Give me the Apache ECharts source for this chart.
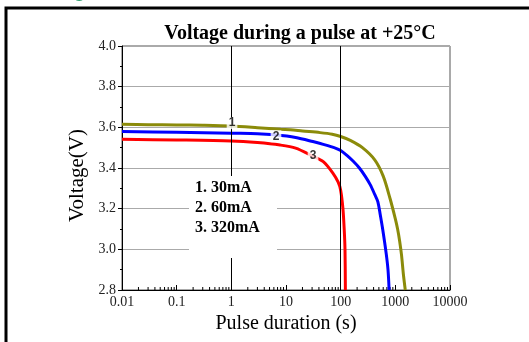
<!DOCTYPE html>
<html>
<head>
<meta charset="utf-8">
<script src="https://cdn.jsdelivr.net/npm/echarts@6/dist/echarts.min.js"></script>
<style>html,body{margin:0;padding:0;background:#fff;}#c{width:529px;height:342px;}</style>
</head>
<body>
<div id="c"></div>
<script>
// Curve 1: 30 mA (olive)
var t30 = [0.01, 0.03, 0.1, 0.3, 1, 3, 8, 12, 20, 42, 70, 100, 150, 250, 420, 600, 800, 1000, 1100, 1200, 1300, 1400, 1520];
var v30 = [3.615, 3.613, 3.612, 3.61, 3.606, 3.598, 3.59, 3.588, 3.582, 3.574, 3.566, 3.555, 3.536, 3.5, 3.44, 3.36, 3.25, 3.15, 3.1, 3.04, 2.97, 2.88, 2.8];
// Curve 2: 60 mA (blue)
var t60 = [0.01, 0.1, 1, 3, 6.3, 15, 31, 50, 80, 100, 130, 170, 220, 280, 347, 420, 478, 530, 590, 680, 734, 770];
var v60 = [3.579, 3.576, 3.571, 3.569, 3.563, 3.55, 3.53, 3.515, 3.498, 3.486, 3.462, 3.433, 3.4, 3.36, 3.318, 3.27, 3.235, 3.17, 3.095, 2.98, 2.9, 2.8];
// Curve 3: 320 mA (red)
var t320 = [0.01, 0.1, 1, 3, 7.8, 15, 30, 48, 72, 90, 100, 110, 116, 120, 122];
var v320 = [3.541, 3.538, 3.533, 3.525, 3.513, 3.498, 3.46, 3.431, 3.375, 3.33, 3.29, 3.2, 3.1, 3.0, 2.8];
// Curve number labels: [time, voltage, text]
var curveLabels = [[1.03, 3.621, '1'], [6.56, 3.556, '2'], [31.2, 3.459, '3']];
var legendLines = ['1. 30mA', '2. 60mA', '3. 320mA'];
var xTickLabels = ['0.01', '0.1', '1', '10', '100', '1000', '10000'];
var yMin = 2.8, yMax = 4.0, yStep = 0.2;
var xMin = 0.01, xMax = 10000;
var refLines = [1, 100];

function zip(a, b) { return a.map(function (x, i) { return [x, b[i]]; }); }

// minor tick positions on the log axis (2..9 x 10^k)
var minorX = [];
for (var k = -2; k < 4; k++) {
  for (var m = 2; m <= 9; m++) minorX.push([m * Math.pow(10, k), yMin]);
}

var serif = 'Liberation Serif';
var chart = echarts.init(document.getElementById('c'));
chart.setOption({
  animation: false,
  backgroundColor: '#fff',
  grid: { left: 122, right: 79, top: 46, bottom: 52, show: true, borderColor: '#555', borderWidth: 1 },
  title: {
    text: 'Voltage during a pulse at +25°C',
    left: 295, top: 19, textAlign: 'center',
    textStyle: { fontFamily: serif, fontWeight: 'bold', fontSize: 20, color: '#000' }
  },
  xAxis: {
    type: 'log', logBase: 10, min: xMin, max: xMax,
    name: 'Pulse duration (s)', nameLocation: 'middle', nameGap: 16,
    nameTextStyle: { fontFamily: serif, fontSize: 20, color: '#000', verticalAlign: 'top' },
    axisLine: { lineStyle: { color: '#000', width: 1 } },
    axisTick: { inside: true, length: 5, lineStyle: { color: '#000' } },
    splitLine: { show: false },
    axisLabel: {
      fontFamily: serif, fontSize: 14, color: '#222', margin: 5,
      formatter: function (v) {
        var e = Math.round(Math.log10(v));
        return xTickLabels[e + 2];
      }
    }
  },
  yAxis: {
    type: 'value', min: yMin, max: yMax, interval: yStep,
    name: 'Voltage(V)', nameLocation: 'middle', nameGap: 30, nameRotate: 90,
    nameTextStyle: { fontFamily: serif, fontSize: 21, color: '#000', padding: [0, 15, 0, 0] },
    axisLine: { show: true, lineStyle: { color: '#000', width: 1 } },
    axisTick: { show: true, inside: false, length: 4, lineStyle: { color: '#000' } },
    minorTick: { show: true, splitNumber: 2, length: 2, lineStyle: { color: '#000' } },
    splitLine: { show: true, lineStyle: { color: '#aaa', width: 1 } },
    axisLabel: {
      fontFamily: serif, fontSize: 14, color: '#222', margin: 6,
      formatter: function (v) { return v.toFixed(1); }
    }
  },
  graphic: [
    { type: 'polyline', z: 200, shape: { points: [[6, 342], [6, 8], [529, 8]] }, style: { stroke: '#000', lineWidth: 3, fill: null } },
    { type: 'text', z: 200, left: 73, top: -23, style: { text: 'g', font: '24px Liberation Sans', fill: '#2e9e6e' } },
    { type: 'rect', z: 100, shape: { x: 189, y: 176, width: 88, height: 82 }, style: { fill: '#fff' } },
    { type: 'text', z: 101, left: 195, top: 180, style: { text: legendLines[0], font: 'bold 16px Liberation Serif', fill: '#000' } },
    { type: 'text', z: 101, left: 195, top: 200, style: { text: legendLines[1], font: 'bold 16px Liberation Serif', fill: '#000' } },
    { type: 'text', z: 101, left: 195, top: 220, style: { text: legendLines[2], font: 'bold 16px Liberation Serif', fill: '#000' } }
  ],
  series: [
    {
      type: 'custom', z: 1, silent: true,
      data: minorX,
      renderItem: function (params, api) {
        var p = api.coord([api.value(0), api.value(1)]);
        return { type: 'line', shape: { x1: p[0], y1: p[1], x2: p[0], y2: p[1] - 3 }, style: { stroke: '#000', lineWidth: 1 } };
      },
      markLine: {
        silent: true, symbol: 'none', label: { show: false },
        lineStyle: { color: '#000', type: 'solid', width: 1 },
        data: refLines.map(function (x) { return { xAxis: x }; })
      }
    },
    { type: 'line', z: 3, data: zip(t30, v30), showSymbol: false, smooth: 0.3, lineStyle: { color: '#8b8b0a', width: 3 } },
    { type: 'line', z: 3, data: zip(t60, v60), showSymbol: false, smooth: 0.3, lineStyle: { color: '#0000ff', width: 3 } },
    { type: 'line', z: 3, data: zip(t320, v320), showSymbol: false, smooth: 0.3, lineStyle: { color: '#ff0000', width: 3 } },
    {
      type: 'scatter', z: 10, silent: true, symbolSize: 1,
      itemStyle: { color: 'transparent' },
      data: curveLabels,
      label: {
        show: true, position: 'inside',
        formatter: function (p) { return p.value[2]; },
        fontFamily: 'Liberation Sans', fontWeight: 'bold', fontSize: 12, color: '#000',
        backgroundColor: '#fff', padding: [0, 2]
      }
    }
  ]
});
</script>
</body>
</html>
